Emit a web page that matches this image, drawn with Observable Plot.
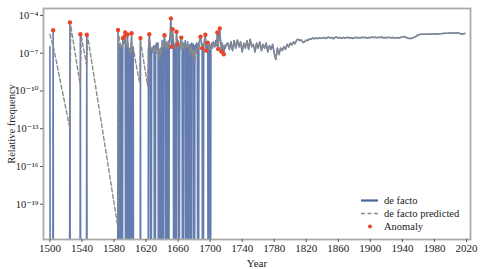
<!DOCTYPE html>
<html>
<head>
<meta charset="utf-8">
<script src="https://cdn.jsdelivr.net/npm/d3@7"></script>
<script src="https://cdn.jsdelivr.net/npm/@observablehq/plot@0.6"></script>
<style>
  body { margin: 0; background: #fff; }
  #wrap { position: relative; width: 482px; height: 269px; font-family: "Liberation Serif", "DejaVu Serif", serif; }
  #legend { position: absolute; left: 358px; top: 194px; font-size: 10.5px; color: #222; }
  .row { display: flex; align-items: center; height: 13px; line-height: 13px; }
  .row svg { width: 24px; height: 13px; display: block; }
  .row span { margin-left: 2px; }
</style>
</head>
<body>
<div id="wrap">
  <div id="chart"></div>
  <div id="legend">
    <div class="row"><svg><line x1="3" x2="20" y1="6.5" y2="6.5" stroke="#4a66a0" stroke-width="2.2"/></svg><span>de facto</span></div>
    <div class="row"><svg><line x1="3" x2="20" y1="6.5" y2="6.5" stroke="#8a8a8a" stroke-width="1.5" stroke-dasharray="4,2.5"/></svg><span>de facto predicted</span></div>
    <div class="row"><svg><circle cx="12" cy="6.5" r="2" fill="#e8462a"/></svg><span>Anomaly</span></div>
  </div>
</div>
<script>
// ---- tick labels ----
const xTicks = [1500,1540,1580,1620,1660,1700,1740,1780,1820,1860,1900,1940,1980,2020];
const yTickExps = [-4,-7,-10,-13,-16,-19];

// ---- de facto (log10 of relative frequency; null = zero frequency) ----
// early sparse years
const earlyYears = [1500,1501,1503,1504,1505,1524,1525,1526,1537,1538,1539,1545,1546,1547,1584];
const earlyLog   = [-6.47,null,null,-5.17,null,null,-4.56,null,null,-5.49,null,null,-5.54,null,null];

// annual, 1585..1720
const denseStart = 1585;
const denseLog = [
  -5.15,null,-6.3,null,-6.5,null,-5.8,-6.2,-5.7,-5.36,      // 1585-1594
  null,-6.4,-5.52,null,-6.6,null,-6.8,-5.41,null,-6.5,     // 1595-1604
  null,null,null,null,null,null,null,null,-5.8,null,       // 1605-1614
  null,null,null,null,null,null,null,null,-6.8,-5.49,      // 1615-1624
  -6.3,null,-6.6,-6.9,-6.5,-6.4,null,-6.5,-6.2,-6.7,       // 1625-1634
  -6.2,null,-6.8,-6.6,null,-6.0,null,-6.3,-5.57,-6.4,      // 1635-1644
  null,-6.1,-6.5,null,-6.2,-5.6,-4.25,-6.5,-5.09,-5.9,     // 1645-1654
  null,-6.3,null,-5.3,-6.28,-6.0,null,-6.4,-6.1,-5.76,     // 1655-1664
  -6.5,null,-6.2,-6.6,-6.0,null,-6.4,-6.1,null,-6.6,       // 1665-1674
  -6.3,null,-6.2,-6.5,-6.3,null,-6.4,-6.6,-6.2,-6.3,       // 1675-1684
  null,-6.1,-6.0,-5.7,-6.2,-6.6,null,-6.3,-6.0,-5.54,      // 1685-1694
  -6.8,-6.1,-6.16,null,-6.3,null,-6.4,-6.2,-6.6,-6.1,      // 1695-1704
  -6.3,-6.5,-6.0,-6.4,-5.36,-6.67,-5.6,-5.04,-6.0,-6.87,   // 1705-1714
  -6.2,-6.5,-7.08,-6.4,-6.6,-6.3                           // 1715-1720
];

// every 2 years, 1722..2018
const lateStart = 1722, lateStep = 2;
const lateLog = [
  -6.2,-6.7,-6.1,-6.8,-6.0,-6.6,-5.95,-6.5,-6.1,-6.9,      // 1722-1740
  -6.2,-6.6,-6.0,-6.7,-5.9,-6.5,-6.3,-6.9,-6.2,-6.6,       // 1742-1760
  -6.1,-6.8,-6.3,-6.6,-6.2,-6.9,-6.4,-6.7,-6.3,-7.0,       // 1762-1780
  -7.5,-6.6,-7.1,-6.6,-6.8,-6.5,-6.7,-6.3,-6.5,-6.2,       // 1782-1800
  -6.35,-6.1,-6.25,-5.95,-5.9,-6.0,-5.95,-6.15,-6.1,-5.95, // 1802-1820
  -6.0,-5.85,-5.9,-5.8,-5.85,-5.8,-5.85,-5.78,-5.82,-5.8,  // 1822-1840
  -5.75,-5.83,-5.78,-5.72,-5.8,-5.76,-5.85,-5.74,-5.72,-5.8, // 1842-1860
  -5.76,-5.82,-5.75,-5.8,-5.78,-5.74,-5.8,-5.76,-5.83,-5.77, // 1862-1880
  -5.74,-5.79,-5.75,-5.78,-5.73,-5.77,-5.74,-5.79,-5.75,-5.77, // 1882-1900
  -5.72,-5.75,-5.73,-5.77,-5.74,-5.76,-5.72,-5.78,-5.75,-5.77, // 1902-1920
  -5.74,-5.76,-5.78,-5.75,-5.77,-5.79,-5.76,-5.8,-5.74,-5.72,  // 1922-1940
  -5.68,-5.74,-5.78,-5.82,-5.84,-5.8,-5.76,-5.7,-5.62,-5.55,   // 1942-1960
  -5.5,-5.5,-5.49,-5.5,-5.49,-5.48,-5.5,-5.48,-5.47,-5.48,     // 1962-1980
  -5.46,-5.47,-5.46,-5.45,-5.44,-5.43,-5.42,-5.42,-5.41,-5.41, // 1982-2000
  -5.4,-5.4,-5.39,-5.38,-5.4,-5.44,-5.5,-5.45,-5.43            // 2002-2018
];

// ---- de facto predicted (log10) ----
const predEarlyYears = [1500,1505,1525,1526,1538,1539,1546,1547,1585];
const predEarlyLog   = [-5.5,-6.7,-13.0,-4.8,-9.6,-5.6,-8.0,-5.6,-20.9];
const predDenseStart = 1586;
const predDenseLog = [
  -5.6,-6.0,-6.3,-6.4,-6.6,-6.0,-6.1,-5.9,-5.7,-6.3,       // 1586-1595
  -6.5,-6.0,-6.6,-6.7,-7.0,-7.1,-6.0,-6.5,-6.5,-6.9,       // 1596-1605
  -7.3,-7.7,-8.0,-8.4,-8.7,-9.0,-9.3,-6.0,-6.4,-6.8,       // 1606-1615
  -7.2,-7.6,-8.0,-8.4,-8.8,-9.2,-9.6,-6.8,-5.8,-6.2,       // 1616-1625
  -6.6,-6.6,-7.0,-6.9,-6.5,-6.9,-6.6,-7.0,-6.8,-6.3,       // 1626-1635
  -6.9,-7.5,-6.7,-7.1,-6.2,-6.6,-6.4,-5.8,-6.3,-6.7,       // 1636-1645
  -6.2,-6.6,-6.0,-6.4,-5.8,-5.0,-5.9,-5.4,-5.9,-6.3,       // 1646-1655
  -6.3,-6.6,-5.6,-6.0,-6.0,-6.4,-6.4,-6.7,-5.9,-6.3,       // 1656-1665
  -6.6,-6.3,-6.7,-6.1,-6.5,-6.4,-6.2,-6.6,-6.6,-7.0,       // 1666-1675
  -6.4,-6.8,-7.3,-6.7,-7.2,-7.7,-6.6,-7.0,-6.4,-6.2,       // 1676-1685
  -6.6,-6.1,-5.9,-6.1,-6.4,-6.2,-6.6,-6.1,-5.8,-6.4,       // 1686-1695
  -6.2,-6.2,-6.6,-6.4,-6.8,-6.5,-6.3,-6.5,-6.2,-6.3,       // 1696-1705
  -6.4,-6.1,-6.3,-5.7,-6.3,-5.9,-5.5,-6.0,-6.5,-6.2,       // 1706-1715
  -6.4,-6.7,-6.4,-6.5,-6.3                                 // 1716-1720
];
// after 1720 the prediction follows the observed series (same readings)
const predLateLog = lateLog;

// ---- anomalies ----
const anomalyYears = [1504,1525,1538,1546,1585,1591,1593,1594,1597,1602,1613,1624,1643,1651,1652,1653,1658,1659,1664,1688,1690,1694,1695,1697,1709,1710,1712,1714,1717];
const anomalyLog   = [-5.17,-4.56,-5.49,-5.54,-5.15,-5.8,-5.7,-5.36,-5.52,-5.41,-5.8,-5.49,-5.57,-4.25,-6.5,-5.09,-5.3,-6.28,-5.76,-5.7,-6.6,-5.54,-6.8,-6.16,-5.36,-6.67,-5.04,-6.87,-7.08];

// ---- build tables ----
const ZERO = 1e-60; // zero frequency: drawn far below the frame and clipped
const toVal = e => e === null ? ZERO : Math.pow(10, e);
const deFacto = [
  ...earlyYears.map((y, i) => ({year: y, value: toVal(earlyLog[i])})),
  ...denseLog.map((e, i) => ({year: denseStart + i, value: toVal(e)})),
  ...lateLog.map((e, i) => ({year: lateStart + i * lateStep, value: toVal(e)}))
];
const predicted = [
  ...predEarlyYears.map((y, i) => ({year: y, value: toVal(predEarlyLog[i])})),
  ...predDenseLog.map((e, i) => ({year: predDenseStart + i, value: toVal(e)})),
  ...predLateLog.map((e, i) => ({year: lateStart + i * lateStep, value: toVal(e)}))
];
const anomalies = anomalyYears.map((y, i) => ({year: y, value: toVal(anomalyLog[i])}));

const sup = {"-":"\u207B","0":"\u2070","1":"\u00B9","2":"\u00B2","3":"\u00B3","4":"\u2074","5":"\u2075","6":"\u2076","7":"\u2077","8":"\u2078","9":"\u2079"};
const fmtPow = d => "10" + String(Math.round(Math.log10(d))).split("").map(c => sup[c]).join("");

const chart = Plot.plot({
  width: 482,
  height: 269,
  marginLeft: 43,
  marginRight: 12,
  marginTop: 8,
  marginBottom: 30,
  style: {fontFamily: "'Liberation Serif', 'DejaVu Serif', serif", fontSize: "10.5px", color: "#222", background: "#fff"},
  x: {domain: [1492, 2025]},
  y: {type: "log", domain: [Math.pow(10, -21.8), Math.pow(10, -3.45)]},
  marks: [
    Plot.line(deFacto, {x: "year", y: "value", stroke: "#4a66a0", strokeWidth: 1.6, strokeOpacity: 0.85, clip: true}),
    Plot.line(predicted, {x: "year", y: "value", stroke: "#8a8a8a", strokeWidth: 1.4, strokeDasharray: "4,2.5", clip: true}),
    Plot.dot(anomalies, {x: "year", y: "value", r: 2.2, fill: "#e8462a", stroke: "none"}),
    Plot.frame({stroke: "#aaa", strokeWidth: 1.8}),
    Plot.axisX({ticks: xTicks, tickFormat: d => String(d), tickSize: 3, tickPadding: 2, stroke: "#555", label: "Year", labelAnchor: "center", labelArrow: "none", labelOffset: 27, fontSize: "11px"}),
    Plot.axisY({ticks: yTickExps.map(e => Math.pow(10, e)), tickFormat: fmtPow, tickSize: 3, tickPadding: 2, stroke: "#555", label: "Relative frequency", labelAnchor: "center", labelArrow: "none", labelOffset: 36})
  ]
});
document.getElementById("chart").appendChild(chart);
</script>
</body>
</html>
